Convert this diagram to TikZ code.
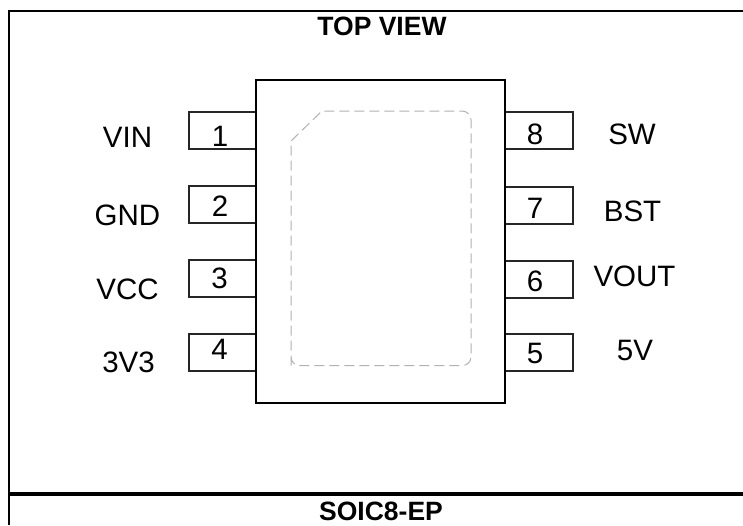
\documentclass[tikz,border=0pt]{standalone}
\usepackage{fontspec}
\setmainfont{Liberation Sans}
\begin{document}
\begin{tikzpicture}[x=1pt,y=-1pt,
  frameline/.style={draw=black,line width=2.2pt},
  bodybox/.style={draw=black,line width=2.7pt},
  pinbox/.style={draw=black!85,line width=1.3pt},
  padline/.style={draw=black!30,line width=1pt,dash pattern=on 10pt off 5pt},
  txtlabel/.style={font=\fontsize{29.5}{31}\selectfont,inner sep=0pt,anchor=base,text=black},
  headlabel/.style={font=\bfseries\fontsize{26.5}{28}\selectfont,inner sep=0pt,anchor=base,text=black}]
\useasboundingbox (0,0) rectangle (743,525);
\fill[white] (0,0) rectangle (743,525);
\coordinate (tl) at (9,11);
\coordinate (tr) at (743,11);
\coordinate (bl) at (9,525);
\coordinate (ml) at (9,494);
\coordinate (mr) at (743,494);
\draw[frameline] (tr) -- (tl) -- (bl);
\draw[frameline,line width=4pt] (ml) -- (mr);
% pins
\foreach \y in {112,186,260,334}{
  \draw[pinbox] (256,\y) -- (189,\y) -- (189,\y+37) -- (256,\y+37);
}
\foreach \y in {112,187,261,334}{
  \draw[pinbox] (505,\y) -- (573,\y) -- (573,\y+37) -- (505,\y+37);
}
\draw[bodybox] (256,80) rectangle (505,403);
\draw[padline] (291,365.5) -- (291,141) -- (322,111) -- (462,111)
  .. controls (467,111) and (471,115) .. (471,120) -- (471,357)
  .. controls (471,362) and (467,365.5) .. (462,365.5) -- (300,365.5)
  .. controls (295,365.5) and (291,362) .. (291,357);
% numbers
\node[txtlabel] (n1) at (220,146) {1};
\node[txtlabel] (n2) at (220,216) {2};
\node[txtlabel] (n3) at (219.5,288) {3};
\node[txtlabel] (n4) at (219.5,359) {4};
\node[txtlabel] (n8) at (535,144) {8};
\node[txtlabel] (n7) at (535,218) {7};
\node[txtlabel] (n6) at (535,291) {6};
\node[txtlabel] (n5) at (535,363) {5};
% names
\node[txtlabel] (vin) at (127.5,147.7) {VIN};
\node[txtlabel] (gnd) at (127.5,225) {GND};
\node[txtlabel] (vcc) at (127.5,299.5) {VCC};
\node[txtlabel] (v33) at (128.5,372) {3V3};
\node[txtlabel] (sw) at (632,144) {SW};
\node[txtlabel] (bst) at (632.5,221) {BST};
\node[txtlabel] (vout) at (634.5,286.5) {VOUT};
\node[txtlabel] (v5) at (635,360) {5V};
% headings
\node[headlabel] (top) at (382,35) {TOP VIEW};
\node[headlabel] (pkg) at (381,520) {SOIC8-EP};
\end{tikzpicture}
\end{document}
